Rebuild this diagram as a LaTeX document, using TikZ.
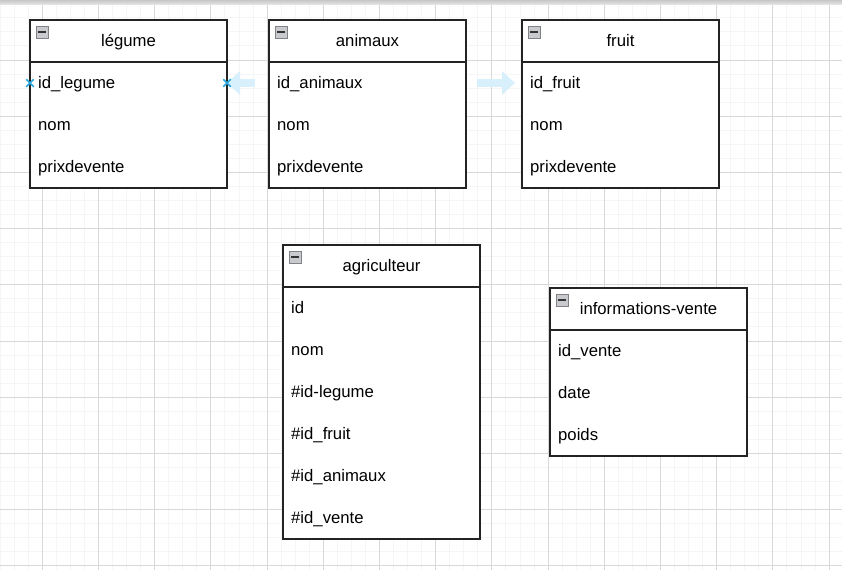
\documentclass[tikz,border=0pt]{standalone}
\usepackage{fontspec}
\setmainfont{Liberation Sans}
\usetikzlibrary{arrows.meta,shapes.misc}
\definecolor{minorgrid}{RGB}{245,245,245}
\definecolor{majorgrid}{RGB}{216,216,216}
\definecolor{tblborder}{RGB}{35,35,35}
\definecolor{arrowfill}{RGB}{216,240,252}
\definecolor{markblue}{RGB}{41,168,224}
\definecolor{iconfill}{RGB}{200,202,206}
\definecolor{iconline}{RGB}{128,130,136}

\newcommand\erdtable[6]{%
  \node[tablebox, minimum height=#4pt] (#1) at (#2,#3) {};
  \node[header] (#1-h) at (#2,#3-0.5) {#5};
  \node[iconbox] (#1-i) at (#2+12,#3+12) {};
  \foreach \r [count=\k] in {#6} {\node[rowtext] (#1-r\k) at (#2+8,#3+22+42*\k) {\r};}
}

\begin{document}
\begin{tikzpicture}[x=1pt,y=-1pt,
  tablebox/.style={draw=tblborder, line width=1.3pt, fill=white, anchor=north west,
    minimum width=197pt, inner sep=0pt, outer sep=0pt},
  header/.style={anchor=north west, minimum width=197pt, text height=12pt, text depth=0pt,
    minimum height=42pt, inner sep=0pt, outer sep=0pt, font=\fontsize{16.7}{20}\selectfont},
  rowtext/.style={anchor=west, inner sep=0pt, text height=12.5pt, text depth=3.5pt,
    font=\fontsize{16.7}{20}\selectfont},
  iconbox/.style={draw=iconline, fill=iconfill, line width=0.8pt, minimum size=12pt, inner sep=0pt,
    path picture={\draw[line width=1.5pt, black!80]
      ([xshift=2.4pt]path picture bounding box.west) -- ([xshift=-2.4pt]path picture bounding box.east);}},
  dragarrow/.style={draw=arrowfill, line width=8pt, -{Triangle[length=13pt,width=23pt]}},
  marker/.style={cross out, draw=markblue, line width=1.5pt, minimum size=6pt, inner sep=0pt}
]
\useasboundingbox (0,0) rectangle (842,570);
\fill[white] (0,0) rectangle (842,570);
\begin{scope}
\clip (0,0) rectangle (842,570);
\foreach \i in {-4,...,60} \draw[minorgrid, line width=1pt] (42.3+14.05*\i,0) -- (42.3+14.05*\i,570);
\foreach \j in {-5,...,40} \draw[minorgrid, line width=1pt] (0,60+14.05*\j) -- (842,60+14.05*\j);
\foreach \i in {-1,...,15} \draw[majorgrid, line width=1pt] (42.3+56.2*\i,0) -- (42.3+56.2*\i,570);
\foreach \j in {-1,...,10} \draw[majorgrid, line width=1pt] (0,60+56.2*\j) -- (842,60+56.2*\j);
\fill[top color=black!22, bottom color=black!10] (0,0) rectangle (842,4.5);
\end{scope}

\erdtable{legume}{30}{20}{168}{légume}{id\_legume,nom,prixdevente}
\erdtable{animaux}{269}{20}{168}{animaux}{id\_animaux,nom,prixdevente}
\erdtable{fruit}{522}{20}{168}{fruit}{id\_fruit,nom,prixdevente}
\erdtable{agri}{283}{245}{294}{agriculteur}{id,nom,\#id-legume,\#id\_fruit,\#id\_animaux,\#id\_vente}
\erdtable{info}{550}{288}{168}{informations-vente}{id\_vente,date,poids}
\foreach \t in {legume,animaux,fruit,agri,info}
  \draw[tblborder, line width=1.3pt] ([yshift=-42pt]\t.north west) -- ([yshift=-42pt]\t.north east);

\coordinate (dragL) at (255,83);
\coordinate (dragR) at (477,83);
\draw[dragarrow] (dragL) -- (legume.east |- 0,83);
\draw[dragarrow, shorten >=7pt] (dragR) -- (fruit.west |- 0,83);
\node[marker] (mL) at (legume.west |- 0,83) {};
\node[marker] (mR) at (legume.east |- 0,83) {};
\end{tikzpicture}
\end{document}
